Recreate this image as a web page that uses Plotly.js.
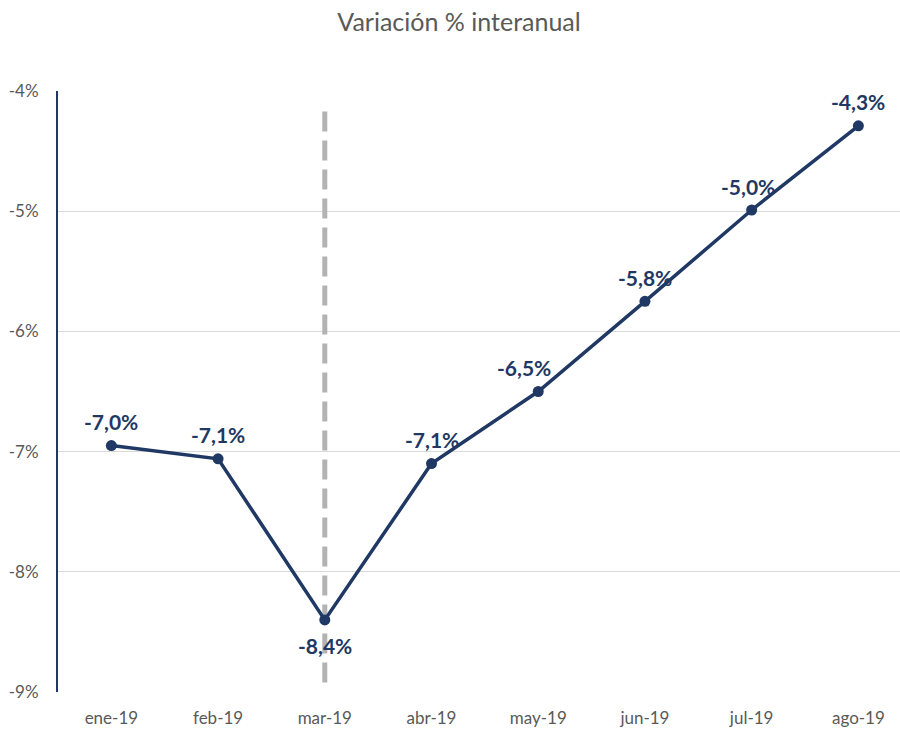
<!DOCTYPE html>
<html>
<head>
<meta charset="utf-8">
<script src="https://cdn.plot.ly/plotly-3.0.1.min.js"></script>
<style>html,body{margin:0;padding:0;background:#fff;}#chart{width:900px;height:729px;}</style>
</head>
<body>
<div id="chart"></div>
<script>
const months = ["ene-19","feb-19","mar-19","abr-19","may-19","jun-19","jul-19","ago-19"];
const values = [-6.95, -7.06, -8.40, -7.10, -6.50, -5.75, -4.99, -4.29];
const labels = ["-7,0%","-7,1%","-8,4%","-7,1%","-6,5%","-5,8%","-5,0%","-4,3%"];
const labelBelow = [false,false,true,false,false,false,false,false];
const labelDx = [0,0,0,0,-14,0,-4,0];
const yTicks = [-9,-8,-7,-6,-5,-4];
const yTickText = ["-9%","-8%","-7%","-6%","-5%","-4%"];
const eventMonth = "mar-19";
const eventRange = [-8.92, -4.11];

const navy = "#1f3864";
const traces = [
  {x:[eventMonth,eventMonth], y:eventRange, mode:"lines", line:{color:"#b3b3b3", width:5, dash:"20px,9px"}, hoverinfo:"skip", showlegend:false},
  {x:months, y:values, mode:"lines+markers", line:{color:navy, width:3.5}, marker:{color:navy, size:11}, showlegend:false}
];
const annotations = months.map((m,i)=>({
  x:m, y:values[i], text:labels[i], showarrow:false,
  yshift: labelBelow[i] ? -26 : 24, xshift: labelDx[i],
  font:{family:"Lato, 'Open Sans', sans-serif", size:21, color:navy, weight:700}
}));
const layout = {
  width:900, height:729,
  margin:{l:58, r:0, t:91, b:37},
  paper_bgcolor:"#fff", plot_bgcolor:"#fff",
  title:{text:"Variación % interanual", x:0.51, xanchor:"center", y:0.97, yanchor:"middle",
         font:{family:"Lato, 'Open Sans', sans-serif", size:25, color:"#595959", weight:400}},
  xaxis:{type:"category", categoryorder:"array", categoryarray:months, range:[-0.5, 7.39], showgrid:false, zeroline:false, showline:false,
         ticks:"", ticklabelstandoff:14, tickfont:{family:"Lato, 'Open Sans', sans-serif", size:17, color:"#595959"}, fixedrange:true},
  yaxis:{range:[-9,-4], tickvals:yTicks, ticktext:yTickText, showgrid:true, gridcolor:"#d9d9d9", gridwidth:1,
         zeroline:false, showline:true, linecolor:navy, linewidth:2, ticks:"", ticklabelstandoff:14,
         tickfont:{family:"Lato, 'Open Sans', sans-serif", size:17, color:"#595959"}},
  annotations:annotations
};
Plotly.newPlot("chart", traces, layout, {displayModeBar:false, staticPlot:true});
</script>
</body>
</html>
